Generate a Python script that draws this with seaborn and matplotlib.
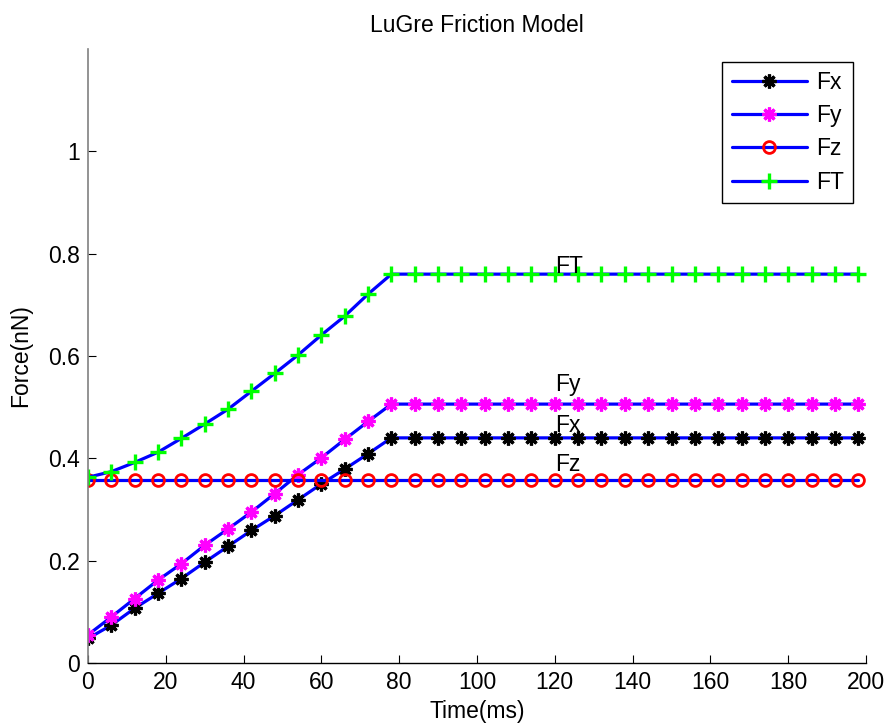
import numpy as np
import pandas as pd
import matplotlib
matplotlib.use("Agg")
import matplotlib.pyplot as plt
import seaborn as sns

# ---------------- data ----------------
time_ms = list(range(0, 199, 6))  # 0, 6, ..., 198

fx_ramp = [0.048, 0.074, 0.107, 0.136, 0.165, 0.197, 0.228, 0.259, 0.288,
           0.319, 0.350, 0.379, 0.409, 0.440]
fy_ramp = [0.055, 0.090, 0.126, 0.162, 0.194, 0.230, 0.262, 0.295, 0.331,
           0.368, 0.401, 0.437, 0.472, 0.506]
ft_ramp = [0.363, 0.374, 0.392, 0.412, 0.439, 0.467, 0.496, 0.531, 0.566,
           0.602, 0.641, 0.678, 0.721, 0.760]
fz_level = 0.357

n_flat = len(time_ms) - len(fx_ramp)
Fx = fx_ramp + [fx_ramp[-1]] * n_flat
Fy = fy_ramp + [fy_ramp[-1]] * n_flat
Fz = [fz_level] * len(time_ms)
FT = ft_ramp + [ft_ramp[-1]] * n_flat

series_names = ["Fx", "Fy", "Fz", "FT"]
series_values = [Fx, Fy, Fz, FT]

annot_x = 120
annot_y = {"FT": 0.762, "Fy": 0.532, "Fx": 0.451, "Fz": 0.376}

x_ticks = list(range(0, 201, 20))
y_ticks = [0, 0.2, 0.4, 0.6, 0.8, 1]
y_tick_labels = ["0", "0.2", "0.4", "0.6", "0.8", "1"]

# ---------------- style ----------------
sns.set_theme(style="white")
plt.rcParams["font.family"] = ["Liberation Sans", "DejaVu Sans"]
plt.rcParams["text.color"] = "black"
plt.rcParams["axes.labelcolor"] = "black"
plt.rcParams["xtick.color"] = "black"
plt.rcParams["ytick.color"] = "black"
FS = 16.5

styles = {
    "Fx": dict(marker=(8, 2, 0), markersize=10, markeredgewidth=2.3,
               markeredgecolor="black", markerfacecolor="black"),
    "Fy": dict(marker=(8, 2, 0), markersize=10, markeredgewidth=2.3,
               markeredgecolor="#ff00ff", markerfacecolor="#ff00ff"),
    "Fz": dict(marker="o", markersize=8.5, markeredgewidth=2.0,
               markeredgecolor="red", markerfacecolor="none"),
    "FT": dict(marker="+", markersize=11, markeredgewidth=2.4,
               markeredgecolor="#00ff00", markerfacecolor="#00ff00"),
}

fig = plt.figure(figsize=(8.87, 7.26), dpi=100)
ax = fig.add_axes([88 / 887, 1 - 663 / 726, (866 - 88) / 887, (663 - 49) / 726])

df = pd.DataFrame({"time": time_ms})
for name, vals in zip(series_names, series_values):
    df[name] = vals

for name in series_names:
    sns.lineplot(data=df, x="time", y=name, ax=ax, color="blue",
                 linewidth=2.3, label=name, estimator=None, **styles[name])

for name in series_names:
    ax.text(annot_x, annot_y[name], name, fontsize=FS, ha="left",
            va="baseline", color="black")

ax.set_xlim(0, 200)
ax.set_ylim(0, 1.2)
ax.set_xticks(x_ticks)
ax.set_yticks(y_ticks)
ax.set_yticklabels(y_tick_labels)
ax.tick_params(axis="both", direction="in", labelsize=FS, length=6,
               width=0.8, color="black", labelcolor="black", pad=6)
ax.tick_params(axis="x", bottom=True, top=False)
ax.tick_params(axis="y", left=True, right=False)

ax.spines["top"].set_visible(False)
ax.spines["right"].set_visible(False)
ax.spines["left"].set_color("#808080")
ax.spines["left"].set_linewidth(1.2)
ax.spines["bottom"].set_color("black")
ax.spines["bottom"].set_linewidth(1.0)

ax.set_title("LuGre Friction Model", fontsize=FS, pad=12, color="black")
ax.set_xlabel("Time(ms)", fontsize=FS, labelpad=4, color="black")
ax.set_ylabel("Force(nN)", fontsize=FS, labelpad=11, color="black")

leg = ax.legend(loc="upper right", fontsize=FS, frameon=True, fancybox=False,
                handlelength=3.3, handletextpad=0.4, labelspacing=0.45,
                borderpad=0.4, borderaxespad=0.55, numpoints=1)
leg.get_frame().set_edgecolor("black")
leg.get_frame().set_linewidth(1.0)
leg.get_frame().set_alpha(1)
for t in leg.get_texts():
    t.set_color("black")

fig.savefig("out.png", dpi=100)
